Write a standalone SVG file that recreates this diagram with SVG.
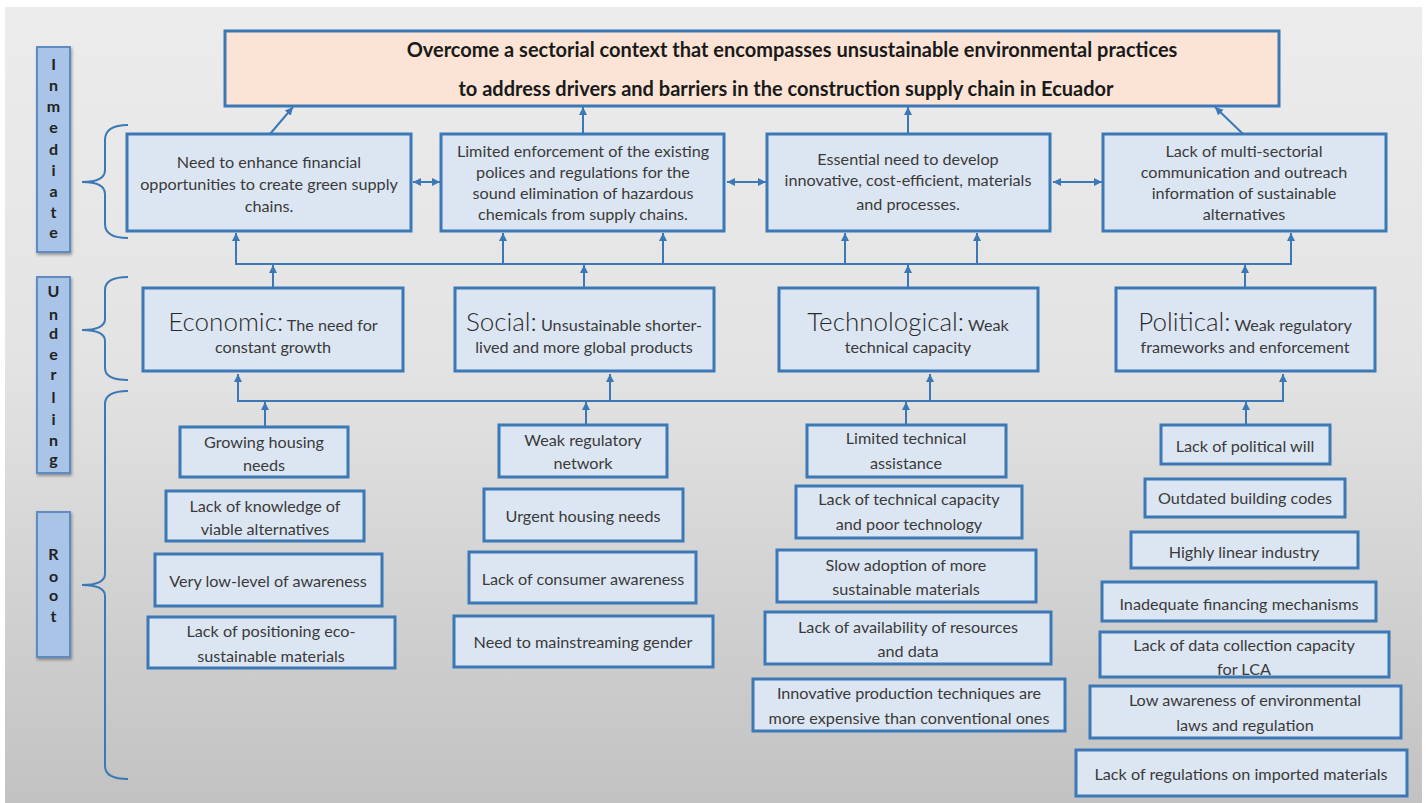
<svg xmlns="http://www.w3.org/2000/svg" width="1427" height="803" viewBox="0 0 1427 803">
  <defs>
    <linearGradient id="bg" x1="0" y1="0" x2="0" y2="1">
      <stop offset="0" stop-color="#ececec"/>
      <stop offset="0.45" stop-color="#e3e3e3"/>
      <stop offset="1" stop-color="#c2c2c2"/>
    </linearGradient>
    <filter id="shadow" x="-30%" y="-10%" width="170%" height="130%">
      <feDropShadow dx="1" dy="2" stdDeviation="1.5" flood-color="#000" flood-opacity="0.35"/>
    </filter>
    <marker id="arr" markerUnits="userSpaceOnUse" markerWidth="10" markerHeight="10" refX="8" refY="4" orient="auto">
      <path d="M0,0 L8,4 L0,8 Z" fill="#3b78b5"/>
    </marker>
    <marker id="arrStart" markerUnits="userSpaceOnUse" markerWidth="10" markerHeight="10" refX="0" refY="4" orient="auto">
      <path d="M8,0 L0,4 L8,8 Z" fill="#3b78b5"/>
    </marker>
    <style>
      .box { fill: #dce6f2; stroke: #3b78b5; stroke-width: 3; }
      .goal { fill: #fbe4d5; stroke: #3b78b5; stroke-width: 3; }
      .side { fill: #a9c4e6; stroke: #5f8ac2; stroke-width: 2; filter: url(#shadow); }
      .t { font-family: Lato, "Open Sans", "Liberation Sans", sans-serif; font-size: 16.2px; fill: #3a3a3a; text-anchor: middle; }
      .big { font-size: 26px; font-weight: 300; fill: #2a2a2a; }
      .title { font-family: Lato, "Open Sans", "Liberation Sans", sans-serif; font-size: 20px; font-weight: 700; fill: #1a1a1a; text-anchor: middle; }
      .letter { font-family: Lato, "Open Sans", "Liberation Sans", sans-serif; font-size: 16px; font-weight: 700; fill: #222222; text-anchor: middle; }
      .brace { fill: none; stroke: #3b78b5; stroke-width: 2; }
      .link { fill: none; stroke: #3b78b5; stroke-width: 2; }
    </style>
  </defs>

  <!-- canvas -->
  <rect x="0" y="0" width="1427" height="803" fill="#ffffff"/>
  <rect x="5" y="7" width="1417" height="796" fill="url(#bg)"/>

  <!-- level labels -->
  <g id="label-immediate">
    <rect class="side" x="37" y="47" width="33" height="205"/>
    <text class="letter" x="53.5" y="70">I</text>
    <text class="letter" x="53.5" y="91">n</text>
    <text class="letter" x="53.5" y="112">m</text>
    <text class="letter" x="53.5" y="133">e</text>
    <text class="letter" x="53.5" y="155">d</text>
    <text class="letter" x="53.5" y="176">i</text>
    <text class="letter" x="53.5" y="197">a</text>
    <text class="letter" x="53.5" y="218">t</text>
    <text class="letter" x="53.5" y="238">e</text>
  </g>
  <g id="label-underling">
    <rect class="side" x="37" y="277" width="33" height="196"/>
    <text class="letter" x="53.5" y="297">U</text>
    <text class="letter" x="53.5" y="320">n</text>
    <text class="letter" x="53.5" y="339">d</text>
    <text class="letter" x="53.5" y="360">e</text>
    <text class="letter" x="53.5" y="380">r</text>
    <text class="letter" x="53.5" y="403">l</text>
    <text class="letter" x="53.5" y="425">i</text>
    <text class="letter" x="53.5" y="446">n</text>
    <text class="letter" x="53.5" y="465">g</text>
  </g>
  <g id="label-root">
    <rect class="side" x="37" y="512" width="33" height="145"/>
    <text class="letter" x="53.5" y="560">R</text>
    <text class="letter" x="53.5" y="582">o</text>
    <text class="letter" x="53.5" y="601">o</text>
    <text class="letter" x="53.5" y="622">t</text>
  </g>

  <!-- braces -->
  <g id="braces">
    <path class="brace" d="M128,125 Q105,125 105,140 L105,170 Q105,182 82,182 Q105,182 105,194 L105,224 Q105,238 128,238"/>
    <path class="brace" d="M128,277 Q105,277 105,290 L105,319 Q105,330 82,330 Q105,330 105,341 L105,368 Q105,380 128,380"/>
    <path class="brace" d="M128,391 Q105,391 105,404 L105,574 Q105,585 82,585 Q105,585 105,596 L105,766 Q105,779 128,779"/>
  </g>

  <!-- connectors -->
  <g id="connectors">
    <!-- immediate causes to goal -->
    <line class="link" x1="270" y1="134" x2="293" y2="107" marker-end="url(#arr)"/>
    <line class="link" x1="583" y1="134" x2="583" y2="107" marker-end="url(#arr)"/>
    <line class="link" x1="908" y1="134" x2="908" y2="107" marker-end="url(#arr)"/>
    <line class="link" x1="1243" y1="134" x2="1215" y2="107" marker-end="url(#arr)"/>
    <!-- links between immediate causes -->
    <line class="link" x1="413" y1="182" x2="440" y2="182" marker-start="url(#arrStart)" marker-end="url(#arr)"/>
    <line class="link" x1="727" y1="182" x2="766" y2="182" marker-start="url(#arrStart)" marker-end="url(#arr)"/>
    <line class="link" x1="1053" y1="182" x2="1102" y2="182" marker-start="url(#arrStart)" marker-end="url(#arr)"/>
    <!-- underlying bus to immediate causes -->
    <path class="link" d="M236,264 L1291,264"/>
    <line class="link" x1="236" y1="265" x2="236" y2="233" marker-end="url(#arr)"/>
    <line class="link" x1="503" y1="264" x2="503" y2="233" marker-end="url(#arr)"/>
    <line class="link" x1="663" y1="264" x2="663" y2="233" marker-end="url(#arr)"/>
    <line class="link" x1="845" y1="264" x2="845" y2="233" marker-end="url(#arr)"/>
    <line class="link" x1="977" y1="264" x2="977" y2="233" marker-end="url(#arr)"/>
    <line class="link" x1="1291" y1="265" x2="1291" y2="233" marker-end="url(#arr)"/>
    <line class="link" x1="273" y1="287" x2="273" y2="265" marker-end="url(#arr)"/>
    <line class="link" x1="584" y1="287" x2="584" y2="265" marker-end="url(#arr)"/>
    <line class="link" x1="908" y1="287" x2="908" y2="265" marker-end="url(#arr)"/>
    <line class="link" x1="1245" y1="287" x2="1245" y2="265" marker-end="url(#arr)"/>
    <!-- root bus to underlying causes -->
    <path class="link" d="M238,401 L1283,401"/>
    <line class="link" x1="238" y1="402" x2="238" y2="374" marker-end="url(#arr)"/>
    <line class="link" x1="610" y1="401" x2="610" y2="374" marker-end="url(#arr)"/>
    <line class="link" x1="930" y1="401" x2="930" y2="374" marker-end="url(#arr)"/>
    <line class="link" x1="1283" y1="402" x2="1283" y2="374" marker-end="url(#arr)"/>
    <line class="link" x1="265" y1="426" x2="265" y2="402" marker-end="url(#arr)"/>
    <line class="link" x1="586" y1="424" x2="586" y2="402" marker-end="url(#arr)"/>
    <line class="link" x1="906" y1="424" x2="906" y2="402" marker-end="url(#arr)"/>
    <line class="link" x1="1246" y1="424" x2="1246" y2="402" marker-end="url(#arr)"/>
  </g>

  <!-- goal -->
  <g id="goal">
    <rect class="goal" x="225" y="31" width="1054" height="75"/>
    <text class="title" x="792" y="57">Overcome a sectorial context that encompasses unsustainable environmental practices</text>
    <text class="title" x="786" y="96">to address drivers and barriers in the construction supply chain in Ecuador</text>
  </g>

  <!-- immediate causes -->
  <g id="imm-financial">
    <rect class="box" x="127" y="134" width="284" height="97"/>
    <text class="t"><tspan x="269" y="168">Need to enhance financial</tspan><tspan x="269" y="190">opportunities to create green supply</tspan><tspan x="269" y="212">chains.</tspan></text>
  </g>
  <g id="imm-enforcement">
    <rect class="box" x="441" y="134" width="283" height="97"/>
    <text class="t"><tspan x="583" y="157">Limited enforcement of the existing</tspan><tspan x="583" y="178">polices and regulations for the</tspan><tspan x="583" y="199">sound elimination of hazardous</tspan><tspan x="583" y="220">chemicals from supply chains.</tspan></text>
  </g>
  <g id="imm-innovation">
    <rect class="box" x="767" y="134" width="283" height="97"/>
    <text class="t"><tspan x="908" y="165">Essential need to develop</tspan><tspan x="908" y="186">innovative, cost-efficient, materials</tspan><tspan x="908" y="210">and processes.</tspan></text>
  </g>
  <g id="imm-communication">
    <rect class="box" x="1103" y="134" width="283" height="97"/>
    <text class="t"><tspan x="1244" y="157">Lack of multi-sectorial</tspan><tspan x="1244" y="178">communication and outreach</tspan><tspan x="1244" y="199">information of sustainable</tspan><tspan x="1244" y="220">alternatives</tspan></text>
  </g>

  <!-- underlying causes -->
  <g id="und-economic">
    <rect class="box" x="143" y="288" width="260" height="83"/>
    <text class="t"><tspan x="273" y="331"><tspan class="big">Economic:</tspan> The need for</tspan><tspan x="273" y="353">constant growth</tspan></text>
  </g>
  <g id="und-social">
    <rect class="box" x="455" y="288" width="259" height="83"/>
    <text class="t"><tspan x="584" y="331"><tspan class="big">Social:</tspan> Unsustainable shorter-</tspan><tspan x="584" y="353">lived and more global products</tspan></text>
  </g>
  <g id="und-technological">
    <rect class="box" x="779" y="288" width="259" height="83"/>
    <text class="t"><tspan x="908" y="331"><tspan class="big">Technological:</tspan> Weak</tspan><tspan x="908" y="353">technical capacity</tspan></text>
  </g>
  <g id="und-political">
    <rect class="box" x="1116" y="288" width="259" height="83"/>
    <text class="t"><tspan x="1245" y="331"><tspan class="big">Political:</tspan> Weak regulatory</tspan><tspan x="1245" y="353">frameworks and enforcement</tspan></text>
  </g>

  <!-- root causes: economic -->
  <g id="root-econ-1">
    <rect class="box" x="180" y="427" width="168" height="50"/>
    <text class="t"><tspan x="264" y="448">Growing housing</tspan><tspan x="264" y="471">needs</tspan></text>
  </g>
  <g id="root-econ-2">
    <rect class="box" x="166" y="491" width="198" height="50"/>
    <text class="t"><tspan x="265" y="512">Lack of knowledge of</tspan><tspan x="265" y="535">viable alternatives</tspan></text>
  </g>
  <g id="root-econ-3">
    <rect class="box" x="155" y="554" width="227" height="52"/>
    <text class="t" x="268" y="587">Very low-level of awareness</text>
  </g>
  <g id="root-econ-4">
    <rect class="box" x="148" y="617" width="247" height="51"/>
    <text class="t"><tspan x="271" y="637">Lack of positioning eco-</tspan><tspan x="271" y="662">sustainable materials</tspan></text>
  </g>

  <!-- root causes: social -->
  <g id="root-soc-1">
    <rect class="box" x="499" y="425" width="168" height="52"/>
    <text class="t"><tspan x="583" y="446">Weak regulatory</tspan><tspan x="583" y="469">network</tspan></text>
  </g>
  <g id="root-soc-2">
    <rect class="box" x="484" y="489" width="199" height="52"/>
    <text class="t" x="583" y="522">Urgent housing needs</text>
  </g>
  <g id="root-soc-3">
    <rect class="box" x="469" y="552" width="227" height="51"/>
    <text class="t" x="583" y="585">Lack of consumer awareness</text>
  </g>
  <g id="root-soc-4">
    <rect class="box" x="454" y="616" width="259" height="51"/>
    <text class="t" x="583" y="648">Need to mainstreaming gender</text>
  </g>

  <!-- root causes: technological -->
  <g id="root-tech-1">
    <rect class="box" x="807" y="425" width="199" height="52"/>
    <text class="t"><tspan x="906" y="444">Limited technical</tspan><tspan x="906" y="469">assistance</tspan></text>
  </g>
  <g id="root-tech-2">
    <rect class="box" x="796" y="486" width="226" height="52"/>
    <text class="t"><tspan x="909" y="505">Lack of technical capacity</tspan><tspan x="909" y="530">and poor technology</tspan></text>
  </g>
  <g id="root-tech-3">
    <rect class="box" x="777" y="550" width="259" height="52"/>
    <text class="t"><tspan x="906" y="571">Slow adoption of more</tspan><tspan x="906" y="595">sustainable materials</tspan></text>
  </g>
  <g id="root-tech-4">
    <rect class="box" x="765" y="612" width="286" height="52"/>
    <text class="t"><tspan x="908" y="633">Lack of availability of resources</tspan><tspan x="908" y="657">and data</tspan></text>
  </g>
  <g id="root-tech-5">
    <rect class="box" x="753" y="679" width="312" height="52"/>
    <text class="t"><tspan x="909" y="699">Innovative production techniques are</tspan><tspan x="909" y="724">more expensive than conventional ones</tspan></text>
  </g>

  <!-- root causes: political -->
  <g id="root-pol-1">
    <rect class="box" x="1161" y="425" width="169" height="39"/>
    <text class="t" x="1245" y="452">Lack of political will</text>
  </g>
  <g id="root-pol-2">
    <rect class="box" x="1145" y="479" width="200" height="38"/>
    <text class="t" x="1245" y="504">Outdated building codes</text>
  </g>
  <g id="root-pol-3">
    <rect class="box" x="1131" y="532" width="227" height="36"/>
    <text class="t" x="1244" y="558">Highly linear industry</text>
  </g>
  <g id="root-pol-4">
    <rect class="box" x="1102" y="582" width="274" height="39"/>
    <text class="t" x="1239" y="610">Inadequate financing mechanisms</text>
  </g>
  <g id="root-pol-5">
    <rect class="box" x="1100" y="632" width="289" height="45"/>
    <text class="t"><tspan x="1244" y="651">Lack of data collection capacity</tspan><tspan x="1244" y="675">for LCA</tspan></text>
  </g>
  <g id="root-pol-6">
    <rect class="box" x="1090" y="686" width="311" height="52"/>
    <text class="t"><tspan x="1245" y="706">Low awareness of environmental</tspan><tspan x="1245" y="731">laws and regulation</tspan></text>
  </g>
  <g id="root-pol-7">
    <rect class="box" x="1076" y="750" width="331" height="46"/>
    <text class="t" x="1241" y="780">Lack of regulations on imported materials</text>
  </g>
</svg>
